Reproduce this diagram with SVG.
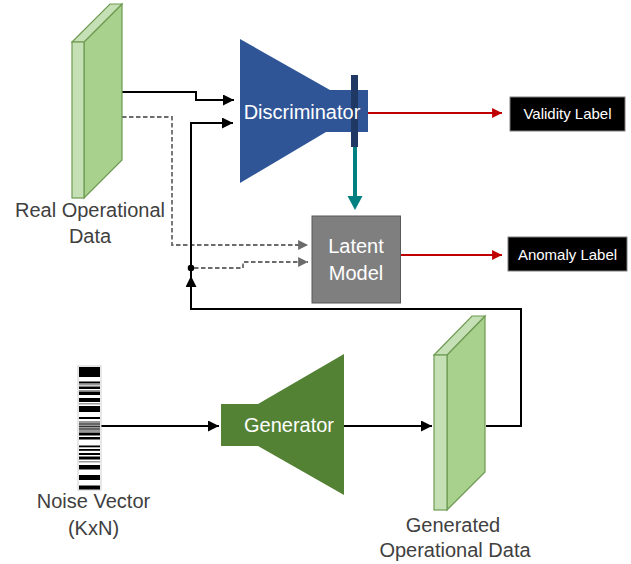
<svg xmlns="http://www.w3.org/2000/svg" width="631" height="564" viewBox="0 0 631 564">
<style>
.t{font-family:"Liberation Sans",Arial,sans-serif;text-anchor:middle}
.lbl{fill:#404040;font-size:20px}
.w{fill:#ffffff;font-size:20px}
.ws{fill:#ffffff;font-size:15px}
.front{fill:#c5e0b4;stroke:#6f9a52;stroke-width:1.2}
.side{fill:#a9d18e;stroke:#6f9a52;stroke-width:1.2}
.blk{fill:none;stroke:#000;stroke-width:2}
.dash{fill:none;stroke:#6b6b6b;stroke-width:1.8;stroke-dasharray:4.5 2.5}
.red{fill:none;stroke:#c00000;stroke-width:1.8}
</style>
<defs>
<marker id="ab" viewBox="0 0 10 10" refX="10" refY="5" markerWidth="5.5" markerHeight="5.5" orient="auto" markerUnits="strokeWidth"><path d="M0,0 L10,5 L0,10 z" fill="#000"/></marker>
<marker id="ag" viewBox="0 0 10 10" refX="10" refY="5" markerWidth="5.5" markerHeight="5.5" orient="auto" markerUnits="strokeWidth"><path d="M0,0 L10,5 L0,10 z" fill="#6b6b6b"/></marker>
<marker id="ar" viewBox="0 0 10 10" refX="10" refY="5" markerWidth="5.5" markerHeight="5.5" orient="auto" markerUnits="strokeWidth"><path d="M0,0 L10,5 L0,10 z" fill="#c00000"/></marker>
</defs>

<g id="connectors">
<polyline class="blk" points="122,92 196,92 196,100 234,100" marker-end="url(#ab)"/>
<polyline class="dash" points="122,117 172,117 172,245 308,245" marker-end="url(#ag)"/>
<polyline class="blk" points="486,426 521,426 521,309 191,309 191,123 233,123" marker-end="url(#ab)"/>
<polyline class="blk" points="191,290 191,276" marker-end="url(#ab)"/>
<circle cx="191" cy="268" r="3.3" fill="#000"/>
<polyline class="dash" points="194,268 243,268 243,262 308,262" marker-end="url(#ag)"/>
<polyline class="red" points="368,113 502,113" marker-end="url(#ar)"/>
<polyline class="red" points="401,255 502,255" marker-end="url(#ar)"/>
<line x1="355" y1="147" x2="355" y2="197" stroke="#008080" stroke-width="4"/>
<polygon points="347.5,196 362.5,196 355,210" fill="#008080"/>
<polyline class="blk" points="101,426 219,426" marker-end="url(#ab)"/>
<polyline class="blk" points="344,426 432,426" marker-end="url(#ab)"/>
</g>

<g id="real-data">
<polygon class="side" points="84,42 122,4 122,160 84,198"/>
<polygon class="front" points="72,42 84,42 122,4 110,4"/>
<rect class="front" x="72" y="42" width="12" height="156"/>
<text class="t lbl" x="90" y="217">Real Operational</text>
<text class="t lbl" x="90" y="243">Data</text>
</g>

<g id="discriminator">
<polygon points="240,39 330,90 368,90 368,132 326,132 240,183" fill="#2f5597"/>
<rect x="351" y="75" width="7" height="72" fill="#203864"/>
<text class="t w" x="302" y="119">Discriminator</text>
</g>

<g id="latent-model">
<rect x="312" y="216" width="88.5" height="87" fill="#7f7f7f" stroke="#595959" stroke-width="1"/>
<text class="t w" x="356" y="253">Latent</text>
<text class="t w" x="356" y="280">Model</text>
</g>

<g id="validity-label">
<rect x="510" y="97" width="115" height="34" fill="#000" stroke="#7f7f7f" stroke-width="1"/>
<text class="t ws" x="567.5" y="119">Validity Label</text>
</g>

<g id="anomaly-label">
<rect x="508" y="237" width="119" height="34" fill="#000" stroke="#7f7f7f" stroke-width="1"/>
<text class="t ws" x="567.5" y="260">Anomaly Label</text>
</g>

<g id="noise-vector">
<rect x="78" y="366" width="23" height="124" fill="#ffffff" stroke="#d0d0d0" stroke-width="1"/>
<g fill="#000">
<rect x="79" y="367" width="21" height="10"/>
<rect x="79" y="381.5" width="21" height="2"/>
<rect x="79" y="386.5" width="21" height="2.5"/>
<rect x="79" y="391.5" width="21" height="3.5"/>
<rect x="79" y="398" width="21" height="4"/>
<rect x="79" y="406" width="21" height="6"/>
<rect x="79" y="417" width="21" height="2"/>
<rect x="79" y="432.5" width="21" height="3"/>
<rect x="79" y="437" width="21" height="2.5"/>
<rect x="79" y="445.5" width="21" height="1.8"/>
<rect x="79" y="449" width="21" height="1.8"/>
<rect x="79" y="453" width="21" height="2"/>
<rect x="79" y="456.5" width="21" height="3"/>
<rect x="79" y="465" width="21" height="4.5"/>
<rect x="79" y="475" width="21" height="5"/>
<rect x="79" y="485.5" width="21" height="4"/>
</g>
<g fill="#9a9a9a">
<rect x="79" y="384" width="21" height="1.5"/>
<rect x="79" y="390" width="21" height="1"/>
<rect x="79" y="403" width="21" height="1.5"/>
<rect x="79" y="421" width="21" height="11"/>
<rect x="79" y="461" width="21" height="1.5"/>
</g>
<g fill="#333">
<rect x="79" y="423.5" width="21" height="1"/>
<rect x="79" y="426" width="21" height="1"/>
<rect x="79" y="428.5" width="21" height="1"/>
</g>
<text class="t lbl" x="93.5" y="508">Noise Vector</text>
<text class="t lbl" x="93.5" y="535">(KxN)</text>
</g>

<g id="generator">
<polygon points="221,404 258,404 344,354 344,495 258,446 221,446" fill="#548235"/>
<text class="t w" x="289" y="432">Generator</text>
</g>

<g id="generated-data">
<polygon class="side" points="447,355 485,316 485,472 447,510"/>
<polygon class="front" points="434,355 447,355 485,316 472,316"/>
<rect class="front" x="434" y="355" width="13" height="155"/>
<text class="t lbl" x="453" y="532">Generated</text>
<text class="t lbl" x="455" y="557">Operational Data</text>
</g>
</svg>
